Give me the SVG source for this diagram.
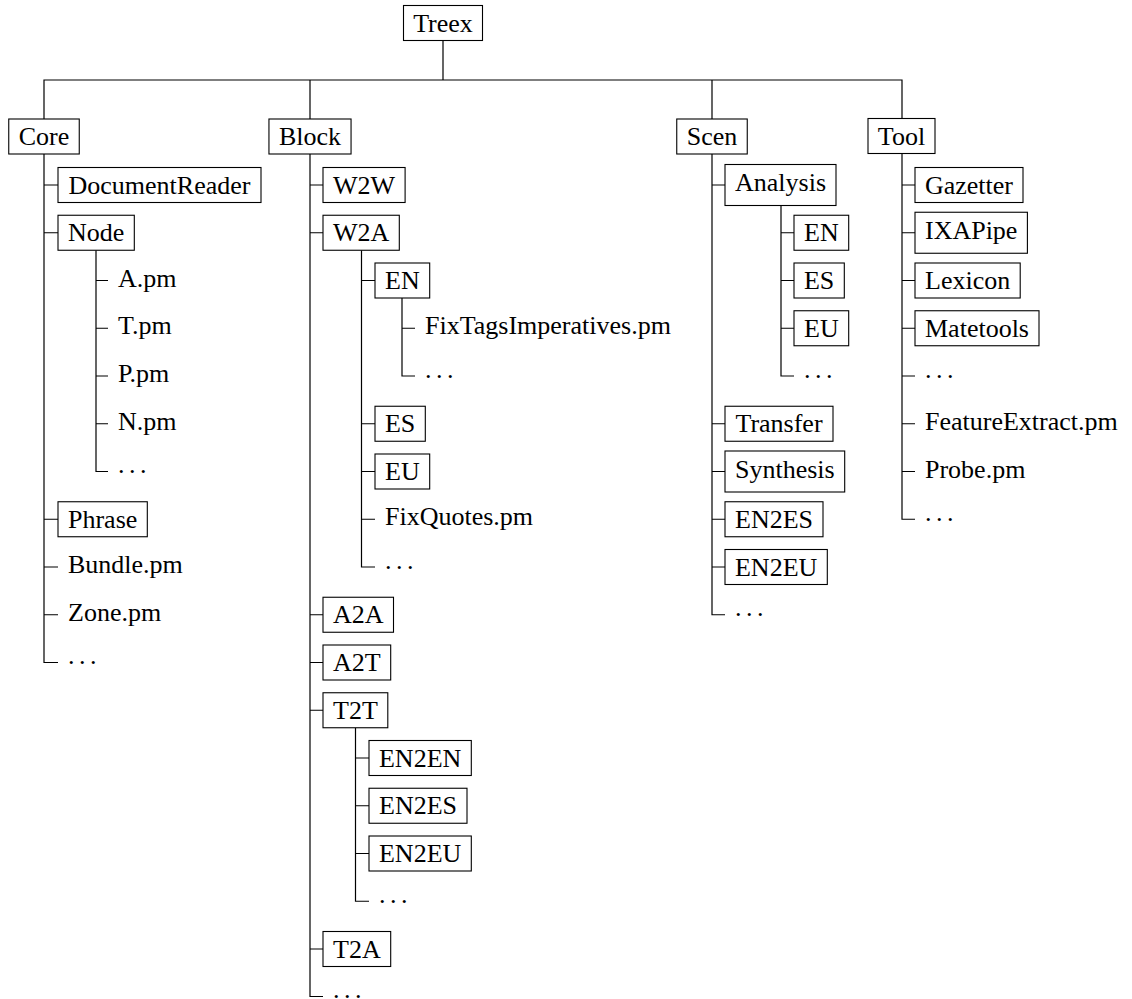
<svg xmlns="http://www.w3.org/2000/svg" width="1132" height="999" viewBox="0 0 1132 999">
  <style>
    .b { fill: #fff; stroke: #000; stroke-width: 1.1; }
    .c { fill: none; stroke: #000; stroke-width: 1.2; stroke-linejoin: miter; }
    text { font-family: "Liberation Serif", serif; font-size: 26px; fill: #000; }
    .m { text-anchor: middle; }
    .d { word-spacing: -2px; }
  </style>
  <rect width="1132" height="999" fill="#fff"/>

  <!-- tree connectors -->
  <g id="connectors">
    <path class="c" d="M443 40.5 V80 M44 119 V80 H902 V118.5 M310 80 V119 M712 80 V119"/>
    <!-- Core -->
    <path class="c" d="M44 154 V662.5 H58 M44 185 H58 M44 232.75 H58 M44 519.25 H58 M44 567 H58 M44 614.75 H58"/>
    <path class="c" d="M96 250.25 V471.5 H108 M96 280.5 H108 M96 328.25 H108 M96 376 H108 M96 423.75 H108"/>
    <!-- Block -->
    <path class="c" d="M310 154 V996.5 H323 M310 185 H323 M310 232.75 H323 M310 614.75 H323 M310 662.5 H323 M310 710.25 H323 M310 949 H323"/>
    <path class="c" d="M361.5 250.25 V567 H375 M361.5 280.5 H375 M361.5 423.75 H375 M361.5 471.5 H375 M361.5 519.25 H375"/>
    <path class="c" d="M402 298 V376 H415 M402 328.25 H415"/>
    <path class="c" d="M355.5 727.75 V901.25 H369 M355.5 758 H369 M355.5 805.75 H369 M355.5 853.5 H369"/>
    <!-- Scen -->
    <path class="c" d="M712 154 V614.75 H725 M712 185 H725 M712 423.75 H725 M712 471.5 H725 M712 519.25 H725 M712 567 H725"/>
    <path class="c" d="M781 205.5 V376 H794 M781 232.75 H794 M781 280.5 H794 M781 328.25 H794"/>
    <!-- Tool -->
    <path class="c" d="M902 153.5 V519.25 H915 M902 185 H915 M902 232.75 H915 M902 280.5 H915 M902 328.25 H915 M902 376 H915 M902 423.75 H915 M902 471.5 H915"/>
  </g>

  <!-- root -->
  <g id="treex"><rect class="b" x="403.5" y="5.5" width="79" height="35"/><text class="m" x="443" y="31.7">Treex</text></g>

  <!-- Core subtree -->
  <g id="core"><rect class="b" x="8.75" y="119" width="70.5" height="35"/><text class="m" x="44" y="145.2">Core</text></g>
  <g id="core-documentreader"><rect class="b" x="58" y="167.5" width="203" height="35"/><text class="m" x="159.5" y="193.7">DocumentReader</text></g>
  <g id="core-node"><rect class="b" x="58" y="215.25" width="76.3" height="35"/><text class="m" x="96.15" y="241.45">Node</text></g>
  <g id="node-a"><text x="118" y="286.6">A.pm</text></g>
  <g id="node-t"><text x="118" y="334.35">T.pm</text></g>
  <g id="node-p"><text x="118" y="382.1">P.pm</text></g>
  <g id="node-n"><text x="118" y="429.85">N.pm</text></g>
  <g id="node-more"><text class="d" x="118" y="473">. . .</text></g>
  <g id="core-phrase"><rect class="b" x="58" y="501.75" width="89.3" height="35"/><text class="m" x="102.65" y="527.95">Phrase</text></g>
  <g id="core-bundle"><text x="68" y="573.1">Bundle.pm</text></g>
  <g id="core-zone"><text x="68" y="620.85">Zone.pm</text></g>
  <g id="core-more"><text class="d" x="68" y="664">. . .</text></g>

  <!-- Block subtree -->
  <g id="block"><rect class="b" x="268.95" y="119" width="82.1" height="35"/><text class="m" x="310" y="145.2">Block</text></g>
  <g id="block-w2w"><rect class="b" x="323" y="167.5" width="82.1" height="35"/><text class="m" x="364.05" y="193.7">W2W</text></g>
  <g id="block-w2a"><rect class="b" x="323" y="215.25" width="76.3" height="35"/><text class="m" x="361.15" y="241.45">W2A</text></g>
  <g id="w2a-en"><rect class="b" x="375" y="263" width="54.7" height="35"/><text class="m" x="402.35" y="289.2">EN</text></g>
  <g id="en-fixtags"><text x="425" y="334.35">FixTagsImperatives.pm</text></g>
  <g id="en-more"><text class="d" x="425" y="377.5">. . .</text></g>
  <g id="w2a-es"><rect class="b" x="375" y="406.25" width="50.3" height="35"/><text class="m" x="400.15" y="432.45">ES</text></g>
  <g id="w2a-eu"><rect class="b" x="375" y="454" width="54.7" height="35"/><text class="m" x="402.35" y="480.2">EU</text></g>
  <g id="w2a-fixquotes"><text x="385" y="525.35">FixQuotes.pm</text></g>
  <g id="w2a-more"><text class="d" x="385" y="568.5">. . .</text></g>
  <g id="block-a2a"><rect class="b" x="323" y="597.25" width="70.5" height="35"/><text class="m" x="358.25" y="623.45">A2A</text></g>
  <g id="block-a2t"><rect class="b" x="323" y="645" width="67.7" height="35"/><text class="m" x="356.85" y="671.2">A2T</text></g>
  <g id="block-t2t"><rect class="b" x="323" y="692.75" width="64.8" height="35"/><text class="m" x="355.4" y="718.95">T2T</text></g>
  <g id="t2t-en2en"><rect class="b" x="369" y="740.5" width="102.3" height="35"/><text class="m" x="420.15" y="766.7">EN2EN</text></g>
  <g id="t2t-en2es"><rect class="b" x="369" y="788.25" width="98" height="35"/><text class="m" x="418" y="814.45">EN2ES</text></g>
  <g id="t2t-en2eu"><rect class="b" x="369" y="836" width="102.3" height="35"/><text class="m" x="420.15" y="862.2">EN2EU</text></g>
  <g id="t2t-more"><text class="d" x="379" y="902.75">. . .</text></g>
  <g id="block-t2a"><rect class="b" x="323" y="931.5" width="67.7" height="35"/><text class="m" x="356.85" y="957.7">T2A</text></g>
  <g id="block-more"><text class="d" x="333" y="997.5">. . .</text></g>

  <!-- Scen subtree -->
  <g id="scen"><rect class="b" x="676.75" y="119" width="70.5" height="35"/><text class="m" x="712" y="145.2">Scen</text></g>
  <g id="scen-analysis"><rect class="b" x="725" y="164.5" width="111" height="41"/><text class="m" x="780.5" y="191.1">Analysis</text></g>
  <g id="analysis-en"><rect class="b" x="794" y="215.25" width="54.7" height="35"/><text class="m" x="821.35" y="241.45">EN</text></g>
  <g id="analysis-es"><rect class="b" x="794" y="263" width="50.3" height="35"/><text class="m" x="819.15" y="289.2">ES</text></g>
  <g id="analysis-eu"><rect class="b" x="794" y="310.75" width="54.7" height="35"/><text class="m" x="821.35" y="336.95">EU</text></g>
  <g id="analysis-more"><text class="d" x="804" y="377.5">. . .</text></g>
  <g id="scen-transfer"><rect class="b" x="725" y="406.25" width="108" height="35"/><text class="m" x="779" y="432.45">Transfer</text></g>
  <g id="scen-synthesis"><rect class="b" x="725" y="451" width="119.7" height="41"/><text class="m" x="784.85" y="477.6">Synthesis</text></g>
  <g id="scen-en2es"><rect class="b" x="725" y="501.75" width="98" height="35"/><text class="m" x="774" y="527.95">EN2ES</text></g>
  <g id="scen-en2eu"><rect class="b" x="725" y="549.5" width="102.3" height="35"/><text class="m" x="776.15" y="575.7">EN2EU</text></g>
  <g id="scen-more"><text class="d" x="735" y="616.25">. . .</text></g>

  <!-- Tool subtree -->
  <g id="tool"><rect class="b" x="868" y="118.5" width="67" height="35"/><text class="m" x="901.5" y="144.7">Tool</text></g>
  <g id="tool-gazetter"><rect class="b" x="915" y="167.5" width="108" height="35"/><text class="m" x="969" y="193.7">Gazetter</text></g>
  <g id="tool-ixapipe"><rect class="b" x="915" y="212.25" width="112.4" height="41"/><text class="m" x="971.2" y="238.85">IXAPipe</text></g>
  <g id="tool-lexicon"><rect class="b" x="915" y="263" width="105.2" height="35"/><text class="m" x="967.6" y="289.2">Lexicon</text></g>
  <g id="tool-matetools"><rect class="b" x="915" y="310.75" width="124" height="35"/><text class="m" x="977" y="336.95">Matetools</text></g>
  <g id="tool-more1"><text class="d" x="925" y="377.5">. . .</text></g>
  <g id="tool-featureextract"><text x="925" y="429.85">FeatureExtract.pm</text></g>
  <g id="tool-probe"><text x="925" y="477.6">Probe.pm</text></g>
  <g id="tool-more2"><text class="d" x="925" y="520.75">. . .</text></g>
</svg>
